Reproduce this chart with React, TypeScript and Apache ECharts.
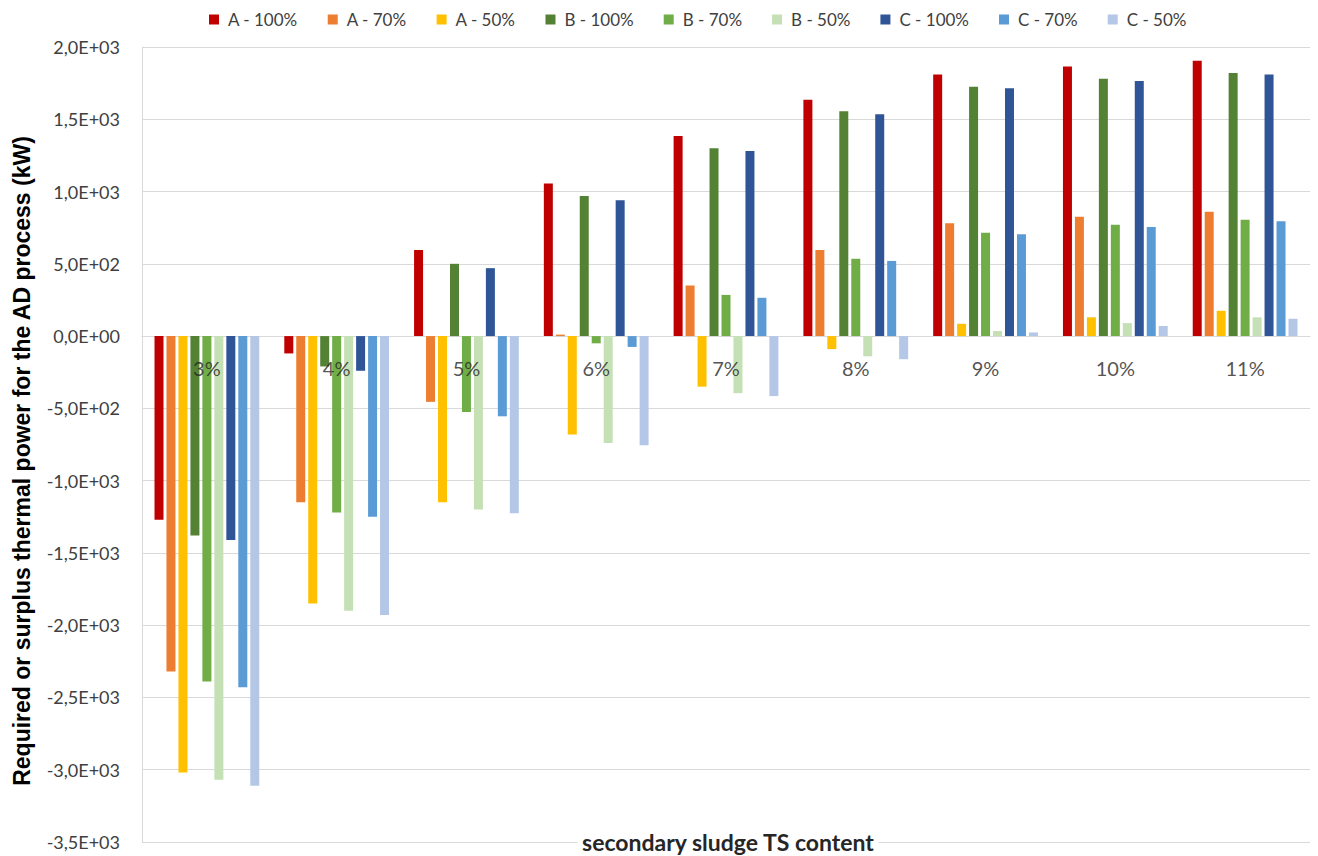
import { useEffect, useRef } from 'react';
import * as echarts from 'echarts';

const categories = ['3%', '4%', '5%', '6%', '7%', '8%', '9%', '10%', '11%'];

const seriesNames = [
  'A - 100%', 'A - 70%', 'A - 50%',
  'B - 100%', 'B - 70%', 'B - 50%',
  'C - 100%', 'C - 70%', 'C - 50%',
];

const seriesColors = [
  '#C00000', '#ED7D31', '#FFC000',
  '#548235', '#70AD47', '#C5E0B4',
  '#2F5597', '#5B9BD5', '#B4C7E7',
];

const a100 = [-1270, -120, 595, 1055, 1385, 1635, 1810, 1865, 1905];
const a70 = [-2320, -1150, -455, 10, 350, 595, 780, 825, 860];
const a50 = [-3020, -1850, -1150, -680, -350, -90, 85, 130, 175];
const b100 = [-1380, -210, 500, 970, 1300, 1555, 1725, 1780, 1820];
const b70 = [-2390, -1220, -525, -50, 285, 535, 715, 770, 805];
const b50 = [-3070, -1900, -1200, -740, -395, -140, 35, 90, 130];
const c100 = [-1410, -240, 470, 940, 1280, 1535, 1715, 1765, 1810];
const c70 = [-2430, -1250, -555, -75, 265, 520, 705, 755, 795];
const c50 = [-3110, -1930, -1225, -755, -415, -160, 25, 70, 120];

const seriesValues = [a100, a70, a50, b100, b70, b50, c100, c70, c50];

const yMin = -3500;
const yMax = 2000;
const yStep = 500;

const xTitle = 'secondary sludge TS content';
const yTitle = 'Required or surplus thermal power for the AD process (kW)';

const FONT = "Lato, 'Liberation Sans', sans-serif";

// Excel-style scientific labels: 1,5E+03
function sci(v: number) {
  if (v === 0) return '0,0E+00';
  const [m, e] = v.toExponential(1).split('e');
  const ev = parseInt(e, 10);
  return m.replace('.', ',') + 'E' + (ev < 0 ? '-' : '+') + String(Math.abs(ev)).padStart(2, '0');
}

export default function App() {
  const chartRef = useRef<HTMLDivElement>(null);

  useEffect(() => {
    if (!chartRef.current) return;
    document.body.style.margin = '0';
    const chart = echarts.init(chartRef.current, undefined, { renderer: 'svg' });

    const barSeries = seriesNames.map((name, i) => ({
      name,
      type: 'bar' as const,
      data: seriesValues[i],
      barWidth: 9,
      barGap: '33%',
      itemStyle: { color: seriesColors[i] },
    }));

    // category names sit just under the zero line, as in Excel
    const zeroLabels = {
      name: 'labels',
      type: 'scatter' as const,
      silent: true,
      symbolSize: 0.1,
      itemStyle: { color: 'rgba(0,0,0,0)' },
      data: categories.map((c) => ({ name: c, value: [c, 0] })),
      label: {
        show: true,
        position: 'bottom' as const,
        distance: 22,
        formatter: (p: any) => p.name,
        fontSize: 20,
        color: '#262626',
        fontFamily: FONT,
      },
      z: 5,
    };

    const option: echarts.EChartsOption = {
      animation: false,
      backgroundColor: '#ffffff',
      textStyle: { fontFamily: FONT },
      legend: {
        top: 6,
        left: 204,
        icon: 'rect',
        itemWidth: 10,
        itemHeight: 10,
        itemGap: 30,
        textStyle: { fontSize: 17, color: '#404040', fontFamily: FONT, padding: [0, 0, 0, 4] },
        data: seriesNames,
      },
      grid: { left: 142, right: 8, top: 47, bottom: 14 },
      xAxis: {
        type: 'category',
        data: categories,
        axisLine: { onZero: true, lineStyle: { color: '#d9d9d9', width: 1 } },
        axisTick: { show: false },
        axisLabel: { show: false },
      },
      yAxis: {
        type: 'value',
        min: yMin,
        max: yMax,
        interval: yStep,
        axisLine: { show: true, lineStyle: { color: '#d9d9d9' } },
        axisTick: { show: false },
        splitLine: { lineStyle: { color: '#d9d9d9' } },
        axisLabel: {
          fontSize: 18,
          color: '#404040',
          margin: 22,
          fontFamily: FONT,
          formatter: (v: number) => sci(v),
        },
      },
      graphic: [
        {
          type: 'text',
          x: 728,
          y: 842,
          z: 10,
          style: {
            text: xTitle,
            font: `bold 23px ${FONT}`,
            fill: '#262626',
            align: 'center',
            verticalAlign: 'middle',
            textAlign: 'center',
            textVerticalAlign: 'middle',
            backgroundColor: '#ffffff',
            padding: [0, 4, 0, 4],
          },
        },
        {
          type: 'text',
          x: 22,
          y: 461,
          rotation: Math.PI / 2,
          style: {
            text: yTitle,
            font: "bold 23px 'Liberation Sans', Arial, sans-serif",
            fill: '#000000',
            align: 'center',
            verticalAlign: 'middle',
            textAlign: 'center',
            textVerticalAlign: 'middle',
          },
        },
      ],
      series: [...barSeries, zeroLabels],
    };

    chart.setOption(option);
    return () => chart.dispose();
  }, []);

  return <div ref={chartRef} style={{ width: 1318, height: 856 }} />;
}
